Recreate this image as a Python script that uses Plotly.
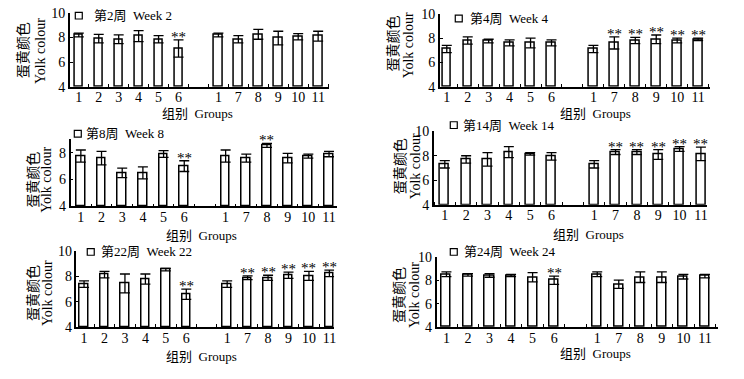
import plotly.graph_objects as go

# ---------------- data ----------------
groups_left = ["1", "2", "3", "4", "5", "6"]
groups_right = ["1", "7", "8", "9", "10", "11"]
tick_labels = groups_left + groups_right

week_labels = ["第2周  Week 2", "第4周  Week 4", "第8周  Week 8",
               "第14周  Week 14", "第22周  Week 22", "第24周  Week 24"]

w2_mean = [8.2, 7.9, 7.85, 8.1, 7.85, 7.1, 8.2, 7.85, 8.25, 7.95, 8.05, 8.1]
w2_sd = [0.15, 0.35, 0.35, 0.45, 0.3, 0.7, 0.15, 0.3, 0.4, 0.55, 0.25, 0.4]
w2_sig = ["", "", "", "", "", "**", "", "", "", "", "", ""]

w4_mean = [7.1, 7.8, 7.75, 7.6, 7.6, 7.6, 7.1, 7.6, 7.8, 7.9, 7.8, 7.9]
w4_sd = [0.3, 0.3, 0.15, 0.25, 0.4, 0.25, 0.3, 0.5, 0.25, 0.35, 0.2, 0.1]
w4_sig = ["", "", "", "", "", "", "", "**", "**", "**", "**", "**"]

w8_mean = [7.75, 7.6, 6.5, 6.5, 7.9, 7.0, 7.75, 7.6, 8.55, 7.6, 7.75, 7.9]
w8_sd = [0.45, 0.5, 0.35, 0.45, 0.25, 0.4, 0.45, 0.3, 0.15, 0.35, 0.15, 0.2]
w8_sig = ["", "", "", "", "", "**", "", "", "**", "", "", ""]

w14_mean = [7.3, 7.7, 7.7, 8.3, 8.15, 7.95, 7.3, 8.3, 8.3, 8.1, 8.55, 8.15]
w14_sd = [0.3, 0.3, 0.55, 0.45, 0.1, 0.3, 0.3, 0.2, 0.2, 0.4, 0.2, 0.55]
w14_sig = ["", "", "", "", "", "", "", "**", "**", "**", "**", "**"]

w22_mean = [7.4, 8.15, 7.45, 7.8, 8.55, 6.6, 7.4, 7.9, 7.9, 8.1, 8.05, 8.25]
w22_sd = [0.25, 0.25, 0.75, 0.4, 0.1, 0.4, 0.25, 0.15, 0.2, 0.25, 0.35, 0.25]
w22_sig = ["", "", "", "", "", "**", "", "**", "**", "**", "**", "**"]

w24_mean = [8.5, 8.45, 8.4, 8.4, 8.25, 8.0, 8.5, 7.65, 8.25, 8.25, 8.3, 8.35]
w24_sd = [0.2, 0.1, 0.15, 0.1, 0.4, 0.35, 0.2, 0.35, 0.45, 0.45, 0.2, 0.15]
w24_sig = ["", "", "", "", "", "**", "", "", "", "", "", ""]

y_ticks = [4, 6, 8, 10]
y_title_cn = "蛋黄颜色"
y_title_en = "Yolk colour"
x_title = "组别  Groups"

# ---------------- layout helpers ----------------
W, H = 744, 379
FONT = "Liberation Serif, Noto Sans CJK SC, serif"
positions = list(range(6)) + list(range(7, 13))

series = [
    (w2_mean, w2_sd, w2_sig),
    (w4_mean, w4_sd, w4_sig),
    (w8_mean, w8_sd, w8_sig),
    (w14_mean, w14_sd, w14_sig),
    (w22_mean, w22_sd, w22_sig),
    (w24_mean, w24_sd, w24_sig),
]

panels = [
    dict(xl=70, xr=330, xrange=[-0.45, 12.55], yt=6, yb=83, yrange=[4, 10],
         ycn=(23, 45), yen=(40, 46), xt_pos=(198, 111), sq=(79, 9), lt=92),
    dict(xl=441, xr=712, xrange=[-0.333, 12.571], yt=7, yb=83, yrange=[4, 10],
         ycn=(395, 38), yen=(410, 40), xt_pos=(597, 111), sq=(460, 12), lt=469),
    dict(xl=70.7, xr=338, xrange=[-0.5, 12.39], yt=137.7, yb=207.7, yrange=[4, 9],
         ycn=(33, 180), yen=(47, 180), xt_pos=(202, 238), sq=(78, 132), lt=84),
    dict(xl=435, xr=709, xrange=[-0.514, 12.29], yt=129.3, yb=206, yrange=[4, 10],
         ycn=(402, 166), yen=(417, 166), xt_pos=(590, 237), sq=(455, 123), lt=462),
    dict(xl=76.7, xr=335, xrange=[-0.37, 12.23], yt=254.3, yb=333.3, yrange=[4, 10],
         ycn=(33, 298), yen=(47, 298), xt_pos=(202, 364), sq=(91, 255), lt=99),
    dict(xl=437.7, xr=720, xrange=[-0.46, 12.61], yt=260, yb=333.3, yrange=[4, 10],
         ycn=(400, 300), yen=(415, 300), xt_pos=(597, 361), sq=(455, 255), lt=463),
]

fig = go.Figure()
annotations = []
shapes = []
layout_axes = {}


def paper_text(x, y, text, angle=0, anchor="center", size=14):
    return dict(
        x=x / W, y=1 - y / H, xref="paper", yref="paper", text=text,
        showarrow=False, textangle=angle, xanchor=anchor, yanchor="middle",
        font=dict(family=FONT, size=size, color="black"),
    )


for i, ((mean, sd, sig), p, wl) in enumerate(zip(series, panels, week_labels)):
    n = i + 1
    xa = "x" if n == 1 else f"x{n}"
    ya = "y" if n == 1 else f"y{n}"
    xkey = "xaxis" if n == 1 else f"xaxis{n}"
    ykey = "yaxis" if n == 1 else f"yaxis{n}"

    fig.add_trace(go.Bar(
        x=positions, y=[m - 4 for m in mean], base=4,
        width=0.42,
        marker=dict(color="white", line=dict(color="black", width=1.5)),
        error_y=dict(type="data", array=sd, visible=True, color="black",
                     thickness=1.3, width=5),
        xaxis=xa, yaxis=ya, showlegend=False, hoverinfo="skip",
    ))

    layout_axes[xkey] = dict(
        domain=[p["xl"] / W, p["xr"] / W], range=p["xrange"], anchor=ya,
        tickmode="array", tickvals=positions, ticktext=tick_labels,
        ticks="", showgrid=False, zeroline=False, ticklabelstandoff=-3,
        showline=True, linecolor="black", linewidth=1.5,
        tickfont=dict(family=FONT, size=14, color="black"),
        minor=dict(tickmode="linear", tick0=0.5, dtick=1, ticks="inside",
                   ticklen=3, tickwidth=1.2, tickcolor="black", showgrid=False),
    )
    layout_axes[ykey] = dict(
        domain=[1 - p["yb"] / H, 1 - p["yt"] / H], range=p["yrange"], anchor=xa,
        tickmode="array", tickvals=y_ticks, ticks="inside", ticklen=3,
        tickwidth=1.2, tickcolor="black",
        showgrid=False, zeroline=False,
        showline=True, linecolor="black", linewidth=1.5,
        tickfont=dict(family=FONT, size=14, color="black"),
    )

    for xpos, m, s, t in zip(positions, mean, sd, sig):
        if t:
            annotations.append(dict(
                x=xpos, y=m + s, xref=xa, yref=ya, text=t, showarrow=False,
                xanchor="center", yanchor="bottom", yshift=-7,
                font=dict(family=FONT, size=15, color="black"),
            ))

    annotations.append(paper_text(*p["ycn"], y_title_cn, angle=-90))
    annotations.append(paper_text(*p["yen"], y_title_en, angle=-90))
    annotations.append(paper_text(*p["xt_pos"], x_title, size=13))
    sx, sy = p["sq"]
    shapes.append(dict(
        type="rect", xref="paper", yref="paper",
        x0=(sx - 3.5) / W, x1=(sx + 3.5) / W, y0=1 - (sy + 3.5) / H, y1=1 - (sy - 3.5) / H,
        line=dict(color="black", width=1.2), fillcolor="white",
    ))
    annotations.append(paper_text(p["lt"], sy, wl, anchor="left", size=13))

fig.update_layout(
    width=W, height=H, autosize=False,
    margin=dict(l=0, r=0, t=0, b=0),
    paper_bgcolor="white", plot_bgcolor="white",
    annotations=annotations, shapes=shapes,
    bargap=0, **layout_axes,
)

fig.write_html(
    "out.html",
    config={"displayModeBar": False},
    post_script="document.body.style.margin='0';document.body.style.overflow='hidden';",
)
